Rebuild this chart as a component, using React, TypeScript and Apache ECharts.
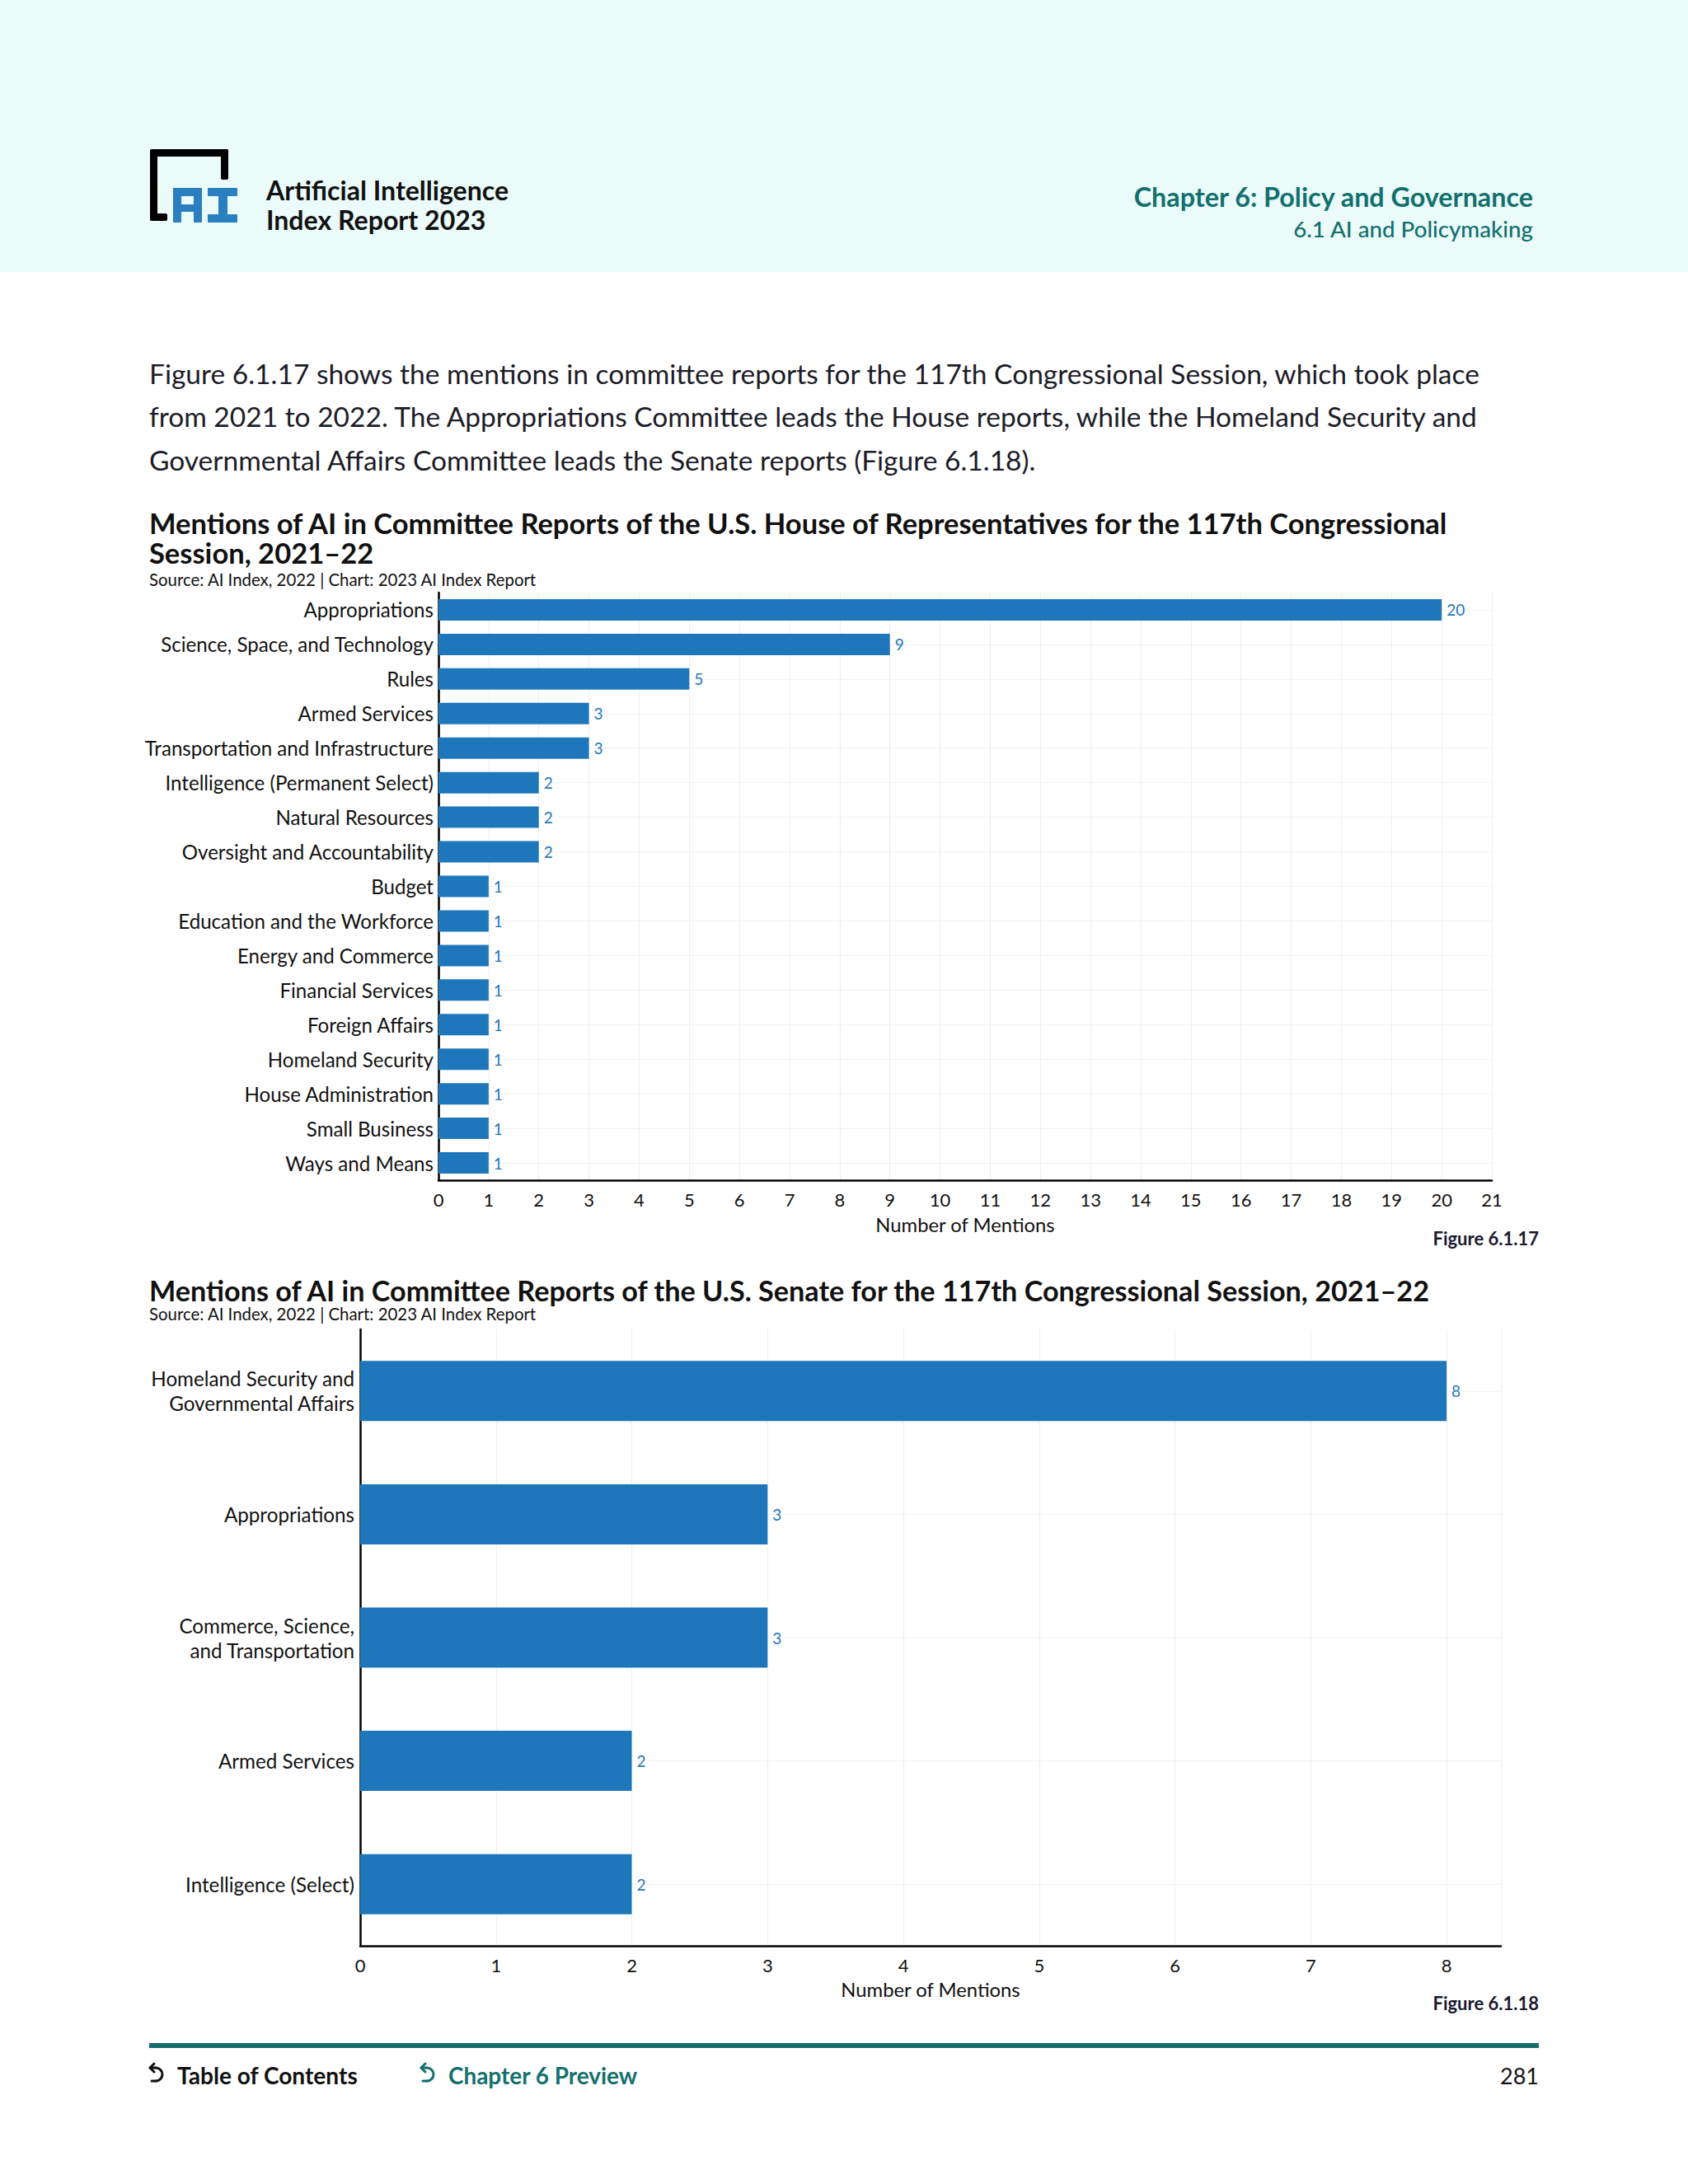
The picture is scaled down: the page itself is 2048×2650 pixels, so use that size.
import React, { useEffect, useRef } from 'react';
import * as echarts from 'echarts';

const houseCategories = [
  'Appropriations',
  'Science, Space, and Technology',
  'Rules',
  'Armed Services',
  'Transportation and Infrastructure',
  'Intelligence (Permanent Select)',
  'Natural Resources',
  'Oversight and Accountability',
  'Budget',
  'Education and the Workforce',
  'Energy and Commerce',
  'Financial Services',
  'Foreign Affairs',
  'Homeland Security',
  'House Administration',
  'Small Business',
  'Ways and Means',
];
const houseValues = [20, 9, 5, 3, 3, 2, 2, 2, 1, 1, 1, 1, 1, 1, 1, 1, 1];

const senateCategories = [
  'Homeland Security and\nGovernmental Affairs',
  'Appropriations',
  'Commerce, Science,\nand Transportation',
  'Armed Services',
  'Intelligence (Select)',
];
const senateValues = [8, 3, 3, 2, 2];

const houseAxisMax = 21;
const senateAxisMax = 8.4;

const paragraphLines = [
  'Figure 6.1.17 shows the mentions in committee reports for the 117th Congressional Session, which took place',
  'from 2021 to 2022. The Appropriations Committee leads the House reports, while the Homeland Security and',
  'Governmental Affairs Committee leads the Senate reports (Figure 6.1.18).',
];
const houseTitle = [
  'Mentions of AI in Committee Reports of the U.S. House of Representatives for the 117th Congressional',
  'Session, 2021–22',
];
const senateTitle = 'Mentions of AI in Committee Reports of the U.S. Senate for the 117th Congressional Session, 2021–22';
const sourceText = 'Source: AI Index, 2022 | Chart: 2023 AI Index Report';

const FONT = 'Lato, "Noto Sans", sans-serif';
const BAR = '#1f77bb';
const TEAL = '#12706d';
const INK = '#111111';
const LOGO_BLUE = '#2a7fc1';

function measure(text: string, weight: string | number) {
  const c = document.createElement('canvas').getContext('2d')!;
  c.font = `${weight} 100px Lato`;
  return c.measureText(text).width;
}
function fit(text: string, w: number, weight: string | number) {
  return Math.round(((100 * w) / measure(text, weight)) * 10) / 10;
}

function txt(text: string, x: number, y: number, size: number, opts: any = {}) {
  const align = opts.align || 'left';
  return {
    type: 'text',
    x,
    y,
    silent: true,
    style: {
      text,
      fill: opts.color || INK,
      fontSize: size,
      fontWeight: opts.weight || 'normal',
      fontFamily: FONT,
      lineHeight: Math.round(size),
      align,
      textAlign: align,
      verticalAlign: 'middle',
      textVerticalAlign: 'middle',
    },
  };
}

function box(x: number, y: number, w: number, h: number, fill: string, r = 0) {
  return { type: 'rect', silent: true, shape: { x, y, width: w, height: h, r }, style: { fill } };
}

function backIcon(x0: number, cy: number, color: string) {
  const s = { stroke: color, lineWidth: 3, fill: 'none', lineCap: 'round', lineJoin: 'round' };
  return [
    { type: 'polyline', silent: true, shape: { points: [[x0 + 6, cy - 14], [x0 + 1, cy - 9], [x0 + 6, cy - 4]] }, style: s },
    { type: 'line', silent: true, shape: { x1: x0 + 1, y1: cy - 9, x2: x0 + 8, y2: cy - 9 }, style: s },
    { type: 'arc', silent: true, shape: { cx: x0 + 8, cy: cy - 1, r: 8, startAngle: -Math.PI / 2, endAngle: Math.PI / 2, clockwise: true }, style: s },
    { type: 'line', silent: true, shape: { x1: x0 + 8, y1: cy + 7, x2: x0 + 3, y2: cy + 7 }, style: s },
  ];
}

export default function App() {
  const ref = useRef<HTMLDivElement>(null);
  useEffect(() => {
    document.body.style.margin = '0';
    const chart = echarts.init(ref.current!, null, { renderer: 'svg', width: 2048, height: 2650 });

    const paraSize = fit(paragraphLines[1], 1612, 'normal');
    const titleSize1 = fit(houseTitle[0], 1576, 'bold');
    const titleSize2 = fit(senateTitle, 1558, 'bold');
    const sourceSize = fit(sourceText, 470, 'normal');
    const ylab1 = fit('Transportation and Infrastructure', 350, 'normal');
    const ylab2 = fit('Homeland Security and', 247, 'normal');
    const axisNameSize = fit('Number of Mentions', 218, 'normal');
    const tickSize = 22;
    const valueLabelSize = 19;

    const graphics: any[] = [
      box(0, 0, 2048, 330, '#ebfbfa'),
      // logo bracket
      box(182, 181, 95, 9, '#000', 2),
      box(182, 181, 9, 87, '#000', 2),
      box(268, 181, 9, 37, '#000', 2),
      box(182, 259, 21, 9, '#000', 2),
      // A
      box(210, 228, 35, 10, LOGO_BLUE, 1),
      box(210, 228, 10, 42, LOGO_BLUE, 1),
      box(235, 228, 10, 42, LOGO_BLUE, 1),
      box(210, 248, 35, 9, LOGO_BLUE),
      // I
      box(252, 228, 36, 10, LOGO_BLUE, 1),
      box(265, 228, 11, 42, LOGO_BLUE),
      box(252, 260, 36, 10, LOGO_BLUE, 1),
      txt('Artificial Intelligence', 323, 230, fit('Artificial Intelligence', 294, 'bold'), { weight: 'bold' }),
      txt('Index Report 2023', 323, 266, fit('Artificial Intelligence', 294, 'bold'), { weight: 'bold' }),
      txt('Chapter 6: Policy and Governance', 1860, 238, fit('Chapter 6: Policy and Governance', 486, 'bold'), { weight: 'bold', color: TEAL, align: 'right' }),
      txt('6.1 AI and Policymaking', 1860, 277, fit('6.1 AI and Policymaking', 292, '500'), { weight: 500, color: TEAL, align: 'right' }),
      txt(paragraphLines[0], 181, 453, paraSize, { color: '#1c1c28' }),
      txt(paragraphLines[1], 181, 505, paraSize, { color: '#1c1c28' }),
      txt(paragraphLines[2], 181, 558, paraSize, { color: '#1c1c28' }),
      txt(houseTitle[0], 181, 634, titleSize1, { weight: 'bold' }),
      txt(houseTitle[1], 181, 670, titleSize1, { weight: 'bold' }),
      txt(sourceText, 181, 703, sourceSize),
      txt('Figure 6.1.17', 1867, 1502, 22, { weight: 'bold', color: '#1a1a2e', align: 'right' }),
      txt(senateTitle, 181, 1565, titleSize2, { weight: 'bold' }),
      txt(sourceText, 181, 1594, sourceSize),
      txt('Figure 6.1.18', 1867, 2430, 22, { weight: 'bold', color: '#1a1a2e', align: 'right' }),
      box(181, 2479, 1686, 6, '#176b6b'),
      ...backIcon(181, 2518, '#111'),
      txt('Table of Contents', 215, 2518, fit('Table of Contents', 219, 'bold'), { weight: 'bold' }),
      ...backIcon(510, 2518, TEAL),
      txt('Chapter 6 Preview', 544, 2518, fit('Chapter 6 Preview', 230, 'bold'), { weight: 'bold', color: TEAL }),
      txt('281', 1867, 2518, 27, { align: 'right' }),
    ];

    const axisLine = { show: true, onZero: false, lineStyle: { color: '#000', width: 2.5 } };
    const split = { show: true, lineStyle: { color: '#eeeeee', width: 1 } };

    const option: any = {
      animation: false,
      backgroundColor: '#ffffff',
      textStyle: { fontFamily: FONT },
      graphic: { elements: graphics },
      grid: [
        { left: 532, right: 238, top: 719, height: 713 },
        { left: 437, right: 227, top: 1613, height: 748 },
      ],
      xAxis: [
        {
          gridIndex: 0, type: 'value', min: 0, max: houseAxisMax, interval: 1,
          axisLine, axisTick: { show: false }, splitLine: split,
          axisLabel: { color: INK, fontSize: tickSize, fontFamily: FONT, margin: 12 },
          name: 'Number of Mentions', nameLocation: 'middle', nameGap: 42,
          nameTextStyle: { color: INK, fontSize: axisNameSize, fontFamily: FONT },
        },
        {
          gridIndex: 1, type: 'value', min: 0, max: senateAxisMax, interval: 1,
          axisLine, axisTick: { show: false }, splitLine: split,
          axisLabel: { color: INK, fontSize: tickSize, fontFamily: FONT, margin: 12, showMaxLabel: false },
          name: 'Number of Mentions', nameLocation: 'middle', nameGap: 41,
          nameTextStyle: { color: INK, fontSize: axisNameSize, fontFamily: FONT },
        },
      ],
      yAxis: [
        {
          gridIndex: 0, type: 'category', data: houseCategories, inverse: true,
          axisLine, axisTick: { show: false },
          splitLine: { show: true, alignWithLabel: true, lineStyle: { color: '#f2f2f2', width: 1 } },
          axisLabel: { color: INK, fontSize: ylab1, fontFamily: FONT, margin: 6 },
        },
        {
          gridIndex: 1, type: 'category', data: senateCategories, inverse: true,
          axisLine, axisTick: { show: false },
          splitLine: { show: true, alignWithLabel: true, lineStyle: { color: '#f2f2f2', width: 1 } },
          axisLabel: { color: INK, fontSize: ylab2, fontFamily: FONT, margin: 7, lineHeight: 30, align: 'right' },
        },
      ],
      series: [
        {
          type: 'bar', xAxisIndex: 0, yAxisIndex: 0, data: houseValues, barWidth: 26,
          itemStyle: { color: BAR },
          label: { show: true, position: 'right', distance: 6, color: BAR, fontSize: valueLabelSize, fontFamily: FONT },
        },
        {
          type: 'bar', xAxisIndex: 1, yAxisIndex: 1, data: senateValues, barWidth: 73,
          itemStyle: { color: BAR },
          label: { show: true, position: 'right', distance: 6, color: BAR, fontSize: valueLabelSize, fontFamily: FONT },
        },
      ],
    };
    chart.setOption(option);
    return () => chart.dispose();
  }, []);
  return <div ref={ref} style={{ width: 2048, height: 2650, position: 'absolute', left: 0, top: 0 }} />;
}
